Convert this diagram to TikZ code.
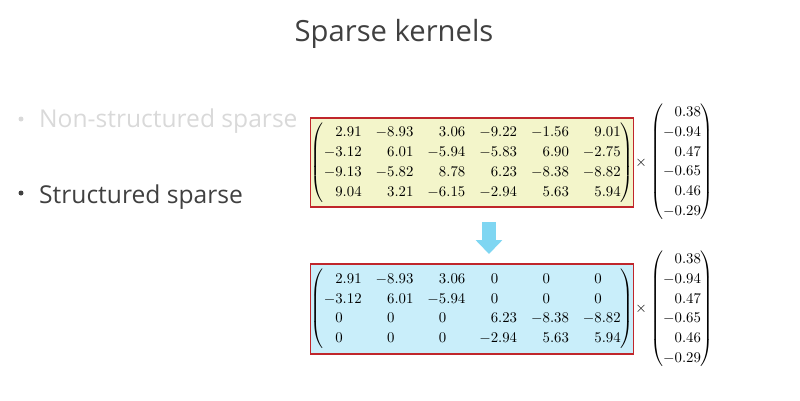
\documentclass[tikz,border=0pt]{standalone}
\usepackage{graphicx}
\usepackage{mathtools}
\usepackage{fontspec}
\newfontfamily\uifont{Open Sans}
\usetikzlibrary{arrows.meta}
\definecolor{titlegray}{HTML}{404040}
\definecolor{fadegray}{HTML}{D9D9D9}
\definecolor{boxred}{HTML}{C0262B}
\definecolor{yellowfill}{HTML}{F3F5CA}
\definecolor{bluefill}{HTML}{C9EEFA}
\definecolor{arrowblue}{HTML}{7FD6F2}
\newcommand\zz{0\phantom{.00}}
\newcommand\bigmath[1]{\scalebox{1.48}{\arraycolsep=4.73pt\renewcommand\arraystretch{1.125}$#1$}}
\tikzset{
  mbox/.style={draw=boxred, line width=1.1pt, minimum width=320pt, minimum height=89pt, inner sep=0pt},
  vecnode/.style={inner sep=0pt},
  timesnode/.style={inner sep=0pt},
  titletext/.style={inner sep=0pt, text=titlegray, font={\uifont\fontsize{29.2}{36}\selectfont}},
  bullettext/.style={inner sep=0pt, font={\uifont\fontsize{24.6}{30}\selectfont}},
  bigarrow/.style={draw=arrowblue, line width=14pt, -{Triangle[width=26pt,length=14pt]}}
}
\begin{document}
\begin{tikzpicture}[x=1pt,y=-1pt]
\useasboundingbox (0,0) rectangle (800,400);
\node[titletext, anchor=base] (title) at (394,41) {Sparse kernels};
\fill[fadegray] (21,119) circle (2.5) coordinate (b1);
\node[bullettext, text=fadegray, anchor=base west] (t1) at (39,127) {Non-structured sparse};
\fill[titlegray] (21,193) circle (2.5) coordinate (b2);
\node[bullettext, text=titlegray, anchor=base west] (t2) at (39,203) {Structured sparse};

\node[mbox, fill=yellowfill] (m1) at (472.3,162.5) {\bigmath{\begin{pmatrix*}[r]
 2.91 & -8.93 & 3.06 & -9.22 & -1.56 & 9.01\\
 -3.12 & 6.01 & -5.94 & -5.83 & 6.90 & -2.75\\
 -9.13 & -5.82 & 8.78 & 6.23 & -8.38 & -8.82\\
 9.04 & 3.21 & -6.15 & -2.94 & 5.63 & 5.94
\end{pmatrix*}}};
\node[timesnode] (x1) at (641,163) {\bigmath{\times}};
\node[vecnode] (v1) at (682,162) {\bigmath{\begin{pmatrix*}[r]
0.38\\-0.94\\0.47\\-0.65\\0.46\\-0.29\end{pmatrix*}}};

\node[mbox, fill=bluefill, minimum height=90pt] (m2) at (472.3,309) {\bigmath{\begin{pmatrix*}[r]
 2.91 & -8.93 & 3.06 & \zz & \zz & \zz\\
 -3.12 & 6.01 & -5.94 & \zz & \zz & \zz\\
 \zz & \zz & \zz & 6.23 & -8.38 & -8.82\\
 \zz & \zz & \zz & -2.94 & 5.63 & 5.94
\end{pmatrix*}}};
\node[timesnode] (x2) at (641,309) {\bigmath{\times}};
\node[vecnode] (v2) at (682,309) {\bigmath{\begin{pmatrix*}[r]
0.38\\-0.94\\0.47\\-0.65\\0.46\\-0.29\end{pmatrix*}}};

\coordinate (a1) at (489,222);
\coordinate (a2) at (489,254);
\draw[bigarrow] (a1) -- (a2);
\end{tikzpicture}
\end{document}
